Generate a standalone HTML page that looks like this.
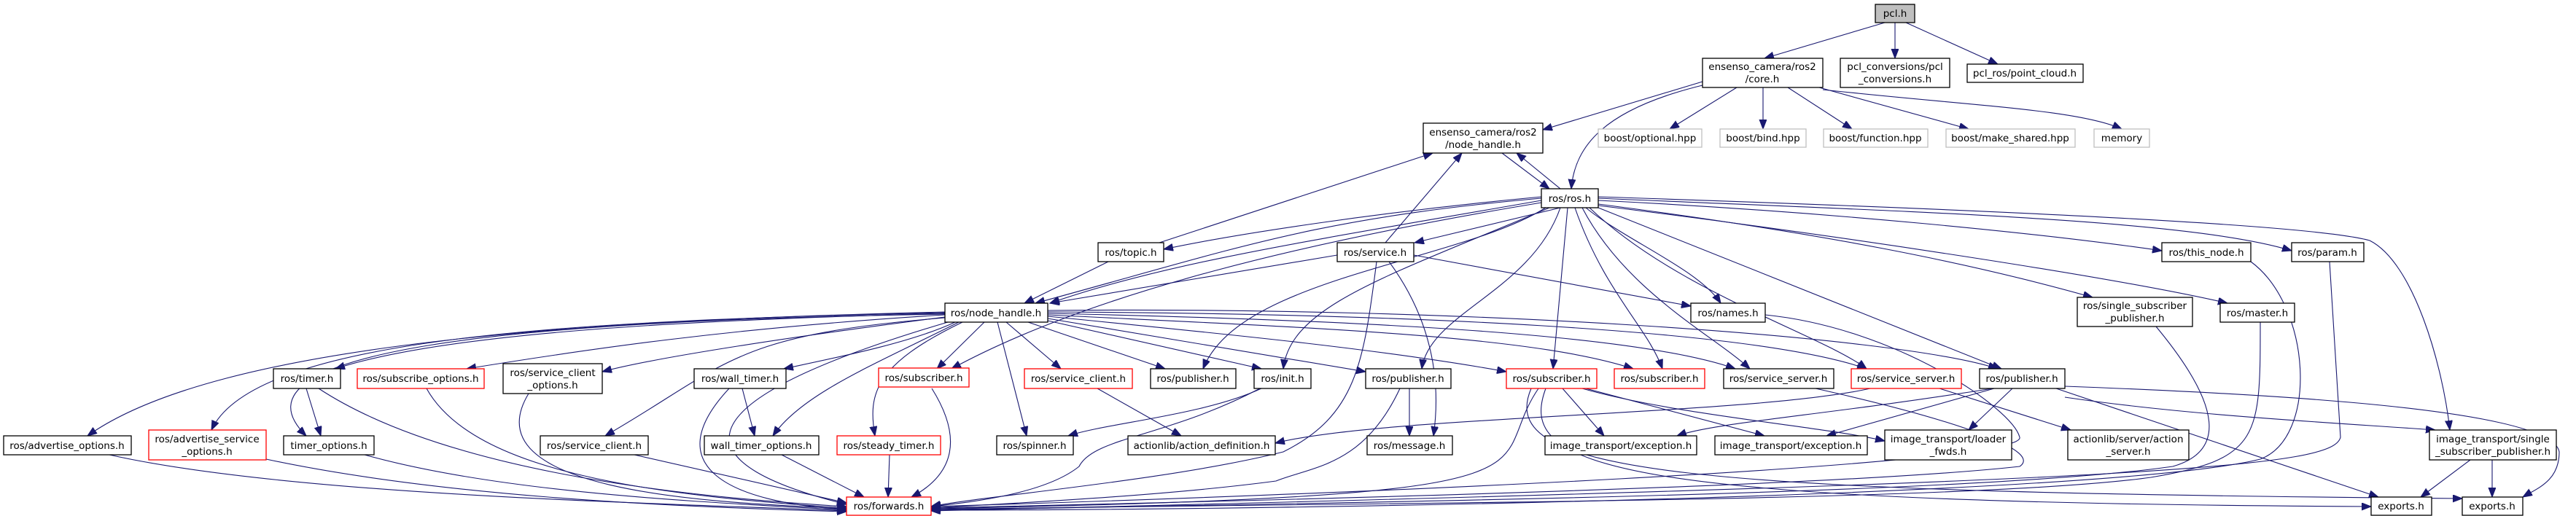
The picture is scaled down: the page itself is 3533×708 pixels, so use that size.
<!DOCTYPE html>
<html><head><meta charset="utf-8"><style>
html,body{margin:0;padding:0;background:#fff;}
svg{display:block;}
text{font-family:"DejaVu Sans","Liberation Sans",sans-serif;font-size:13.5px;fill:#000;text-anchor:middle;}
.b{fill:#fff;stroke:#000;stroke-width:1.3;}
.g{fill:#fff;stroke:#bfbfbf;stroke-width:1.3;}
.r{fill:#fff;stroke:#ff0000;stroke-width:1.3;}
.e{fill:none;stroke:#191970;stroke-width:1.1;marker-end:url(#a);}
</style></head><body>
<svg width="3533" height="708" viewBox="0 0 3533 708" xmlns="http://www.w3.org/2000/svg">
<defs><marker id="a" markerUnits="userSpaceOnUse" markerWidth="14" markerHeight="12" refX="13" refY="5" orient="auto"><path d="M0,0 L13,5 L0,10 z" fill="#191970" stroke="#191970"/></marker></defs>
<g>
<path class="e" d="M2585 31 L2420 80"/>
<path class="e" d="M2599 31 L2599 80"/>
<path class="e" d="M2614 31 L2740 88"/>
<path class="e" d="M2335 112 L2116 178"/>
<path class="e" d="M2335 117 C2200 150 2160 200 2155 259"/>
<path class="e" d="M2382 120 L2290 177"/>
<path class="e" d="M2418 120 L2418 177"/>
<path class="e" d="M2452 120 L2540 177"/>
<path class="e" d="M2495 120 L2700 177"/>
<path class="e" d="M2500 123 C2700 145 2850 150 2910 177"/>
<path class="e" d="M2060 210 L2125 259"/>
<path class="e" d="M2140 259 L2080 210"/>
<path class="e" d="M1590 333 L1965 210"/>
<path class="e" d="M1900 333 L2005 210"/>
<path class="e" d="M2114 270 C1900 290 1700 320 1596 342"/>
<path class="e" d="M2114 272 C1800 300 1700 340 1420 416"/>
<path class="e" d="M2114 275 C1800 330 1600 360 1440 416"/>
<path class="e" d="M2140 285 L1940 333"/>
<path class="e" d="M2175 285 C2230 330 2330 370 2360 416"/>
<path class="e" d="M2192 275 C2500 290 2800 320 2965 344"/>
<path class="e" d="M2192 272 C2600 290 3000 300 3143 344"/>
<path class="e" d="M2192 280 C2500 320 2700 360 2870 408"/>
<path class="e" d="M2192 282 C2500 320 2900 380 3055 416"/>
<path class="e" d="M2192 270 C2800 290 3180 310 3250 330 C3310 360 3350 500 3360 590"/>
<path class="e" d="M2120 285 C2000 360 1700 380 1650 506"/>
<path class="e" d="M2125 285 C1900 380 1770 420 1760 506"/>
<path class="e" d="M2140 285 C2100 400 1960 430 1950 506"/>
<path class="e" d="M2150 285 L2130 506"/>
<path class="e" d="M2160 285 C2200 400 2260 450 2280 506"/>
<path class="e" d="M2170 285 C2230 400 2350 460 2400 506"/>
<path class="e" d="M2180 285 C2300 400 2500 460 2560 506"/>
<path class="e" d="M2192 285 L2745 506"/>
<path class="e" d="M2114 278 C1800 330 1500 400 1305 506"/>
<path class="e" d="M1520 359 L1405 416"/>
<path class="e" d="M1834 350 L1440 416"/>
<path class="e" d="M1939 350 L2319 420"/>
<path class="e" d="M1905 359 C1950 420 1980 500 1966 598"/>
<path class="e" d="M1888 359 C1870 500 1860 570 1760 620 C1600 660 1350 680 1277 695"/>
<path class="e" d="M1296 430 C900 440 600 460 460 506"/>
<path class="e" d="M1296 432 C1000 450 800 480 640 506"/>
<path class="e" d="M1296 435 C1100 460 900 490 826 510"/>
<path class="e" d="M1310 442 C1250 470 1150 490 1075 506"/>
<path class="e" d="M1350 442 L1285 506"/>
<path class="e" d="M1380 442 L1455 506"/>
<path class="e" d="M1410 442 L1598 506"/>
<path class="e" d="M1437 440 L1730 506"/>
<path class="e" d="M1437 437 L1873 510"/>
<path class="e" d="M1437 434 C1700 460 1900 480 2066 510"/>
<path class="e" d="M1437 432 C1800 450 2100 460 2240 506"/>
<path class="e" d="M1437 430 C1900 440 2250 460 2380 506"/>
<path class="e" d="M1437 428 C1900 430 2400 450 2560 506"/>
<path class="e" d="M1437 426 C2000 420 2600 460 2740 506"/>
<path class="e" d="M1296 428 C800 440 300 470 120 598"/>
<path class="e" d="M1296 429 C800 440 350 460 290 590"/>
<path class="e" d="M1296 431 C700 440 300 480 420 598"/>
<path class="e" d="M1296 436 C1000 460 1000 500 830 598"/>
<path class="e" d="M1315 442 C1200 500 1100 540 1060 598"/>
<path class="e" d="M1320 442 C1200 500 1190 540 1200 598"/>
<path class="e" d="M1368 442 L1408 598"/>
<path class="e" d="M1300 442 C900 560 950 640 1161 692"/>
<path class="e" d="M420 533 L440 598"/>
<path class="e" d="M437 533 C600 640 900 680 1161 695"/>
<path class="e" d="M585 533 C650 650 900 680 1161 697"/>
<path class="e" d="M725 540 C640 680 1000 690 1161 698"/>
<path class="e" d="M1018 533 L1035 598"/>
<path class="e" d="M1000 533 C900 640 1000 690 1161 699"/>
<path class="e" d="M150 624 C400 680 900 690 1161 701"/>
<path class="e" d="M365 630 C600 680 900 695 1161 702"/>
<path class="e" d="M500 624 C700 680 1000 690 1161 700"/>
<path class="e" d="M870 624 L1161 690"/>
<path class="e" d="M1072 624 L1185 682"/>
<path class="e" d="M1220 624 L1218 682"/>
<path class="e" d="M1278 533 C1320 600 1310 650 1250 682"/>
<path class="e" d="M1505 533 L1620 598"/>
<path class="e" d="M1730 533 C1650 570 1520 580 1465 598"/>
<path class="e" d="M1728 533 C1600 600 1500 600 1480 640 C1430 680 1320 690 1277 695"/>
<path class="e" d="M1933 533 L1933 598"/>
<path class="e" d="M1920 533 C1870 640 1800 640 1750 660 C1600 680 1400 690 1277 697"/>
<path class="e" d="M2143 533 L2200 598"/>
<path class="e" d="M2175 533 L2420 598"/>
<path class="e" d="M2170 533 C2300 570 2500 585 2585 605"/>
<path class="e" d="M2110 533 C2030 650 2200 680 1277 698"/>
<path class="e" d="M2120 533 C2080 640 2200 690 3252 695"/>
<path class="e" d="M2100 533 C2050 650 2300 675 3377 684"/>
<path class="e" d="M2565 533 C2400 570 1900 570 1749 608"/>
<path class="e" d="M2660 533 L2840 590"/>
<path class="e" d="M2490 533 C2700 580 2800 620 2770 640 C2500 670 1600 690 1277 697"/>
<path class="e" d="M2733 533 C2500 570 2350 580 2300 598"/>
<path class="e" d="M2735 533 L2505 598"/>
<path class="e" d="M2760 533 L2700 590"/>
<path class="e" d="M2820 533 L3262 682"/>
<path class="e" d="M2832 545 C3000 570 3200 580 3340 590"/>
<path class="e" d="M2832 530 C3100 540 3500 560 3510 620 C3510 660 3480 670 3460 682"/>
<path class="e" d="M2421 432 C2600 450 2760 560 2770 600 C2780 640 1800 680 1277 695"/>
<path class="e" d="M2957 448 C3050 560 3050 620 2980 640 C2700 680 1800 690 1277 700"/>
<path class="e" d="M3100 442 C3100 600 3100 630 2950 655 C2700 690 1800 690 1277 699"/>
<path class="e" d="M3087 359 C3170 420 3180 600 3100 630 C2900 680 1800 700 1277 700"/>
<path class="e" d="M3195 359 L3210 600 C3200 640 3000 660 1277 701"/>
<path class="e" d="M3388 631 L3320 682"/>
<path class="e" d="M3418 631 L3418 682"/>
</g>
<g>
<rect x="2572" y="6" width="54" height="25" fill="#bfbfbf" stroke="#000" stroke-width="1.3"/><text x="2599" y="23">pcl.h</text>
<rect class="b" x="2335" y="80" width="165" height="40"/><text x="2417" y="96">ensenso_camera/ros2</text><text x="2417" y="113">/core.h</text>
<rect class="b" x="2524" y="80" width="150" height="40"/><text x="2599" y="96">pcl_conversions/pcl</text><text x="2599" y="113">_conversions.h</text>
<rect class="b" x="2698" y="88" width="159" height="25"/><text x="2777" y="105">pcl_ros/point_cloud.h</text>
<rect class="b" x="1952" y="169" width="164" height="41"/><text x="2034" y="186">ensenso_camera/ros2</text><text x="2034" y="203">/node_handle.h</text>
<rect class="g" x="2192" y="177" width="142" height="25"/><text x="2263" y="194">boost/optional.hpp</text>
<rect class="g" x="2359" y="177" width="118" height="25"/><text x="2418" y="194">boost/bind.hpp</text>
<rect class="g" x="2501" y="177" width="143" height="25"/><text x="2572" y="194">boost/function.hpp</text>
<rect class="g" x="2669" y="177" width="177" height="25"/><text x="2757" y="194">boost/make_shared.hpp</text>
<rect class="g" x="2872" y="177" width="76" height="25"/><text x="2910" y="194">memory</text>
<rect class="b" x="2114" y="259" width="78" height="26"/><text x="2153" y="277">ros/ros.h</text>
<rect class="b" x="1506" y="333" width="90" height="26"/><text x="1551" y="351">ros/topic.h</text>
<rect class="b" x="1834" y="333" width="105" height="26"/><text x="1886" y="351">ros/service.h</text>
<rect class="b" x="2965" y="333" width="122" height="26"/><text x="3026" y="351">ros/this_node.h</text>
<rect class="b" x="3143" y="333" width="99" height="26"/><text x="3192" y="351">ros/param.h</text>
<rect class="b" x="1296" y="416" width="141" height="26"/><text x="1366" y="434">ros/node_handle.h</text>
<rect class="b" x="2319" y="416" width="102" height="26"/><text x="2370" y="434">ros/names.h</text>
<rect class="b" x="2849" y="408" width="158" height="40"/><text x="2928" y="424">ros/single_subscriber</text><text x="2928" y="441">_publisher.h</text>
<rect class="b" x="3045" y="416" width="102" height="26"/><text x="3096" y="434">ros/master.h</text>

<rect class="b" x="375" y="506" width="92" height="27"/><text x="421" y="524">ros/timer.h</text>
<rect class="r" x="490" y="506" width="174" height="27"/><text x="577" y="524">ros/subscribe_options.h</text>
<rect class="b" x="690" y="499" width="136" height="41"/><text x="758" y="516">ros/service_client</text><text x="758" y="533">_options.h</text>
<rect class="b" x="952" y="506" width="126" height="27"/><text x="1015" y="524">ros/wall_timer.h</text>
<rect class="r" x="1205" y="505" width="124" height="26"/><text x="1267" y="523">ros/subscriber.h</text>
<rect class="r" x="1405" y="506" width="148" height="27"/><text x="1479" y="524">ros/service_client.h</text>
<rect class="b" x="1578" y="506" width="117" height="27"/><text x="1636" y="524">ros/publisher.h</text>
<rect class="b" x="1720" y="506" width="78" height="27"/><text x="1759" y="524">ros/init.h</text>
<rect class="b" x="1873" y="506" width="117" height="27"/><text x="1931" y="524">ros/publisher.h</text>
<rect class="r" x="2066" y="506" width="124" height="27"/><text x="2128" y="524">ros/subscriber.h</text>
<rect class="r" x="2214" y="506" width="124" height="27"/><text x="2276" y="524">ros/subscriber.h</text>
<rect class="b" x="2364" y="506" width="151" height="27"/><text x="2439" y="524">ros/service_server.h</text>
<rect class="r" x="2539" y="506" width="151" height="27"/><text x="2614" y="524">ros/service_server.h</text>
<rect class="b" x="2715" y="506" width="117" height="27"/><text x="2773" y="524">ros/publisher.h</text>

<rect class="b" x="5" y="598" width="175" height="26"/><text x="92" y="616">ros/advertise_options.h</text>
<rect class="r" x="204" y="590" width="161" height="41"/><text x="284" y="607">ros/advertise_service</text><text x="284" y="624">_options.h</text>
<rect class="b" x="389" y="598" width="124" height="26"/><text x="451" y="616">timer_options.h</text>
<rect class="b" x="741" y="598" width="148" height="26"/><text x="815" y="616">ros/service_client.h</text>
<rect class="b" x="966" y="598" width="157" height="26"/><text x="1044" y="616">wall_timer_options.h</text>
<rect class="r" x="1148" y="598" width="142" height="26"/><text x="1219" y="616">ros/steady_timer.h</text>
<rect class="b" x="1367" y="598" width="105" height="26"/><text x="1419" y="616">ros/spinner.h</text>
<rect class="b" x="1547" y="598" width="202" height="26"/><text x="1648" y="616">actionlib/action_definition.h</text>
<rect class="b" x="1875" y="598" width="117" height="26"/><text x="1933" y="616">ros/message.h</text>
<rect class="b" x="2119" y="598" width="208" height="26"/><text x="2223" y="616">image_transport/exception.h</text>
<rect class="b" x="2352" y="598" width="209" height="26"/><text x="2456" y="616">image_transport/exception.h</text>
<rect class="b" x="2585" y="590" width="174" height="41"/><text x="2672" y="607">image_transport/loader</text><text x="2672" y="624">_fwds.h</text>
<rect class="b" x="2836" y="590" width="166" height="41"/><text x="2919" y="607">actionlib/server/action</text><text x="2919" y="624">_server.h</text>
<rect class="b" x="3332" y="590" width="174" height="41"/><text x="3419" y="607">image_transport/single</text><text x="3419" y="624">_subscriber_publisher.h</text>

<rect class="r" x="1161" y="682" width="116" height="25"/><text x="1219" y="699">ros/forwards.h</text>
<rect class="b" x="3252" y="682" width="83" height="25"/><text x="3293" y="699">exports.h</text>
<rect class="b" x="3377" y="682" width="83" height="25"/><text x="3418" y="699">exports.h</text>
</g>
</svg>
</body></html>
